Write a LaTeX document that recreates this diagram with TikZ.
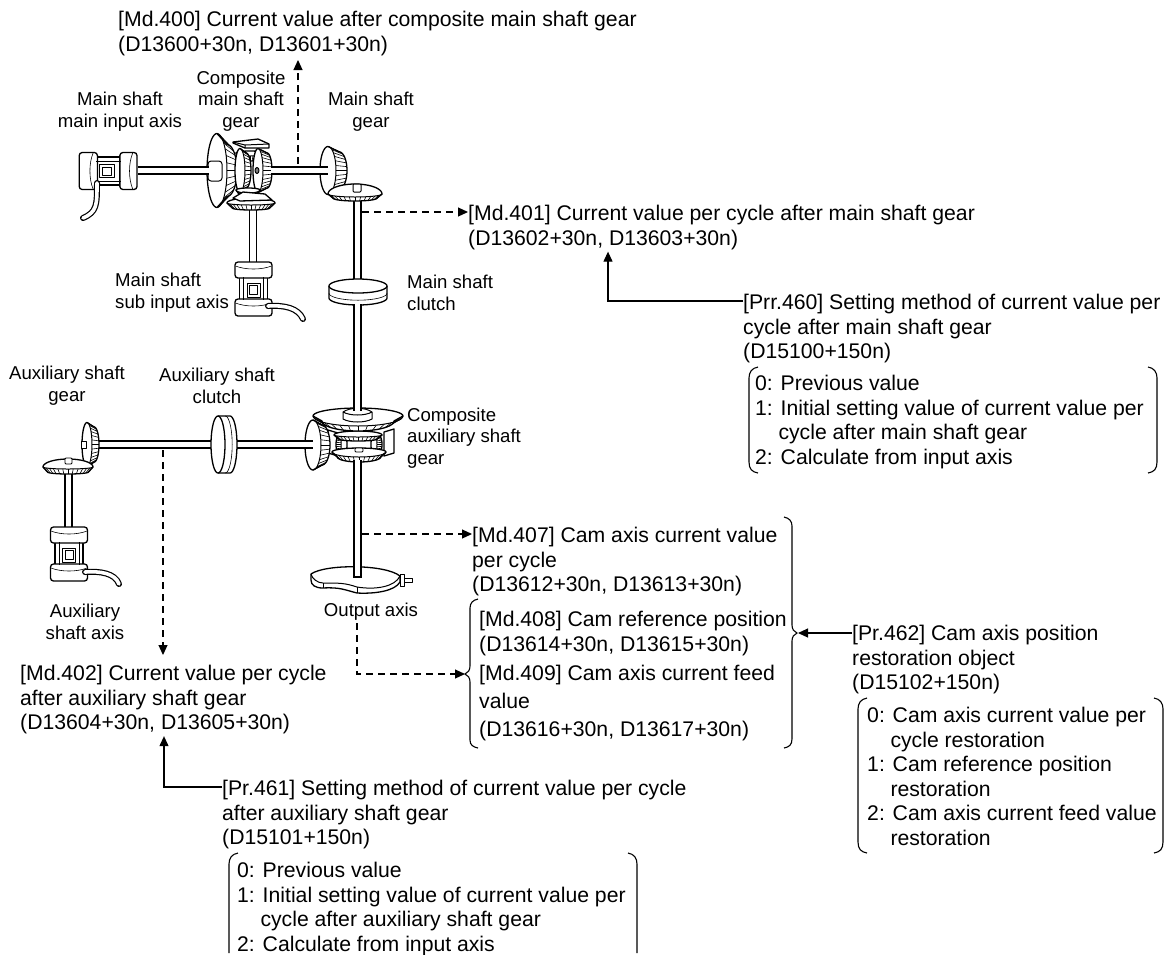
\documentclass[tikz,border=0pt]{standalone}
\usepackage{fontspec}
\setmainfont{Liberation Sans}
\usetikzlibrary{arrows.meta,calc}
\tikzset{
  txt/.style={inner sep=0pt,anchor=north west,align=left,font=\fontsize{21.2}{24.5}\selectfont},
  lab/.style={inner sep=0pt,align=center,font=\fontsize{18.6}{21.7}\selectfont},
  mech/.style={line width=1.3pt,line join=round},
  fine/.style={line width=0.6pt},
  dasharrow/.style={line width=1.1pt,dash pattern=on 7pt off 5pt,-{Triangle[length=10pt,width=9pt]}},
  solidarrow/.style={line width=1.1pt,-{Triangle[length=10pt,width=9pt]}},
  bracket/.style={line width=1.1pt},
}
\newcommand{\Tube}[1]{\draw[line width=8.4pt] #1; \draw[line width=5.2pt,white] #1;}
\newcommand{\TubeS}[1]{\draw[line width=6pt,line cap=round] #1; \draw[line width=3.6pt,white,line cap=round] #1;}
% bevel gear: R rtop rlow b k
\newcommand{\Gear}[5]{%
  \filldraw[mech,fill=white] plot[domain=180:0,samples=25] ({#1*cos(\x)},{-#2*sin(\x)}) -- plot[domain=0:180,samples=25] ({#5*#1*cos(\x)},{#3*sin(\x)+#4}) -- cycle;
  \draw[mech,line width=1pt] plot[domain=0:180,samples=25] ({#1*cos(\x)},{#3*sin(\x)});
  \foreach \a in {6,18,...,174} \draw[fine] ({#1*cos(\a)},{#3*sin(\a)}) -- ({#5*#1*cos(\a)},{#3*sin(\a)+#4});
}
% clutch: R r h
\newcommand{\Clutch}[3]{%
  \filldraw[mech,fill=white] plot[domain=180:0,samples=25] ({#1*cos(\x)},{-#2*sin(\x)}) -- ++(0,#3) -- plot[domain=0:180,samples=25] ({#1*cos(\x)},{#2*sin(\x)+#3}) -- cycle;
  \draw[mech] plot[domain=0:180,samples=25] ({#1*cos(\x)},{#2*sin(\x)});
  \draw[fine] plot[domain=0:180,samples=25] ({#1*cos(\x)},{#2*sin(\x)+0.6*#3});
}
% motor, shaft end at top, local origin at the top centre
\newcommand{\Motor}{%
  \filldraw[mech,fill=white] (-14,15) rectangle (14,40);
  \filldraw[mech,fill=white,rounded corners=3pt] (-18.5,0) rectangle (18.5,16);
  \draw[fine] (-18,4) .. controls (-8,8) and (8,8) .. (18,4);
  \filldraw[mech,fill=white,rounded corners=3pt] (-18.5,37) rectangle (18.5,54);
  \draw[fine] (-18,41) .. controls (-8,45) and (8,45) .. (18,41);
  \draw[mech,line width=1pt] (-10,15) -- (-10,38) (10,15) -- (10,38);
  \filldraw[mech,line width=1pt,fill=white] (-6.5,21) rectangle (6.5,35);
  \draw[mech,line width=0.8pt] (-4,23.5) rectangle (4,32.5);
}
\begin{document}
\begin{tikzpicture}[x=1pt,y=-1pt]
\useasboundingbox (0,0) rectangle (1169,954);
\fill[white] (0,0) rectangle (1169,954);

% ---------- main input side
\begin{scope}[shift={(137,171)},rotate=-90,yscale=1.07]\Motor\end{scope}
\TubeS{(97,183) .. controls (97,205) and (97,212) .. (83,218)}
\Tube{(253,205) -- (253,266)}
\begin{scope}[shift={(253.5,262)}]\Motor\end{scope}
\TubeS{(268,306) .. controls (285,305) and (298,308) .. (303,319)}

% ---------- composite main shaft gear
\begin{scope}[shift={(217,170.5)},rotate=90]\Gear{37}{10}{10}{10}{0.7}\end{scope}
\filldraw[mech,line width=1pt,fill=white,rounded corners=3pt] (208,161) rectangle (222,181);
\Tube{(138,170.5) -- (209,170.5)}
\begin{scope}[shift={(250,153)}]\Gear{14}{2}{3}{5}{0.75}\end{scope}
\begin{scope}[shift={(240,170.5)},rotate=90]\Gear{22}{5}{5}{6}{0.8}\end{scope}
\begin{scope}[shift={(258,170.5)},rotate=90]\Gear{22}{5}{5}{9}{0.8}\end{scope}
\filldraw[mech,line width=1pt,fill=gray] (257,170.5) ellipse[x radius=2,y radius=3];
\filldraw[mech,fill=white] (233,142) -- (258,139) -- (269,144) -- (269,148) -- (245,148) -- (233,143) -- cycle;
\draw[mech,line width=1pt] (233,142) -- (245,145) -- (269,144) (245,145) -- (245,148);
\begin{scope}[shift={(251,203)}]\Gear{24}{5}{2}{5}{0.78}\end{scope}
\begin{scope}[shift={(248,190)}]\Gear{12}{2}{3}{4}{0.75}\end{scope}
\filldraw[mech,fill=white] (233,198) -- (243,192) -- (265,194) -- (272,200) -- (240,201) -- cycle;

% ---------- main shaft gear pair
\begin{scope}[shift={(328,170.5)},rotate=90]\Gear{24}{8}{8}{11}{0.78}\end{scope}
\Tube{(271,170.5) -- (328,170.5)}
\Tube{(357.5,198) -- (357.5,281)}
\begin{scope}[shift={(355,194)}]\Gear{27}{10}{3}{4}{0.82}\end{scope}
\filldraw[mech,line width=1pt,fill=white,rounded corners=1pt] (353,184) rectangle (361,192);

% ---------- main shaft clutch and long shaft
\begin{scope}[shift={(358,286)}]\Clutch{29}{7}{12}\end{scope}

% ---------- composite auxiliary shaft gear
\filldraw[mech,fill=white] (328,430) -- (338,433) -- (338,456) -- (328,453) -- cycle;
\filldraw[mech,fill=white] (384,432) -- (394,429) -- (394,453) -- (384,456) -- cycle;
\begin{scope}[shift={(374,444.5)},rotate=90]\Gear{11}{3}{3}{5}{0.8}\end{scope}
\begin{scope}[shift={(344,444.5)},rotate=-90]\Gear{11}{3}{3}{5}{0.8}\end{scope}
\begin{scope}[shift={(358,435)}]\Gear{24}{4}{2}{4}{0.8}\end{scope}
\begin{scope}[shift={(358,416)}]\Gear{45}{8}{10}{5}{0.8}\end{scope}
\filldraw[mech,line width=1pt,fill=white] (343,412) -- (343,419) .. controls (350,423) and (365,423) .. (372,419) -- (372,412) .. controls (365,407) and (350,407) .. (343,412) -- cycle;
\draw[mech,line width=1pt] (343,412) .. controls (350,416) and (365,416) .. (372,412);
\Tube{(357.5,304) -- (357.5,411)}
\begin{scope}[shift={(359,452)}]\Gear{27}{4}{5}{5}{0.8}\end{scope}
\filldraw[mech,line width=0.8pt,fill=white,rounded corners=1pt] (355,448) rectangle (363,452);
\begin{scope}[shift={(313,445)},rotate=90]\Gear{25}{8}{8}{9}{0.8}\end{scope}

% ---------- auxiliary shafts
\Tube{(99,444.5) -- (217,444.5)}
\Tube{(236,444.5) -- (313,444.5)}
\begin{scope}[shift={(218,444.5)},rotate=90]\Clutch{28.5}{7}{12}\end{scope}
\begin{scope}[shift={(87,444.5)},rotate=90]\Gear{22}{5}{5}{7}{0.8}\end{scope}
\filldraw[mech,line width=0.8pt,fill=white] (81,441) rectangle (86,448);
\Tube{(68.5,474) -- (68.5,530)}
\begin{scope}[shift={(68,467)}]\Gear{25}{8}{2}{5}{0.82}\end{scope}
\filldraw[mech,line width=0.8pt,fill=white,rounded corners=1pt] (65,458) rectangle (72,464);
\begin{scope}[shift={(69,527)}]\Motor\end{scope}
\TubeS{(85,572) .. controls (100,571) and (115,573) .. (119,584)}

% ---------- output axis
\filldraw[mech,fill=white] (311,574) .. controls (325,564) and (385,564) .. (400,576) -- (400,582) .. controls (395,591) and (375,594) .. (357,593) .. controls (345,590) and (340,587) .. (323,588) .. controls (315,588) and (311,585) .. (311,580) -- cycle;
\draw[mech,line width=1pt] (311,574) .. controls (312,579) and (318,583) .. (323,583) .. controls (340,583) and (345,583) .. (357,587) .. controls (375,590) and (395,587) .. (400,576);
\draw[mech,line width=0.8pt] (323,583) -- (323,588) (357,587) -- (357,593);
\Tube{(357.5,460) -- (357.5,577)}
\draw[line width=1.2pt] (353.3,577) -- (361.7,577);
\filldraw[mech,line width=0.9pt,fill=white] (400,574) rectangle (404,586);
\filldraw[mech,line width=0.9pt,fill=white] (404,578) rectangle (412,582);

% ---------- braces
\draw[bracket] (758,367) .. controls (752,368) and (749,372) .. (749,378) -- (749,462) .. controls (749,469) and (752,472) .. (758,473);
\draw[bracket] (1148,367) .. controls (1154,368) and (1157,372) .. (1157,378) -- (1157,462) .. controls (1157,469) and (1154,472) .. (1148,473);
\draw[bracket] (867,698) .. controls (861,699) and (858,703) .. (858,709) -- (858,842) .. controls (858,849) and (861,852) .. (867,853);
\draw[bracket] (1154,698) .. controls (1160,699) and (1163,703) .. (1163,709) -- (1163,842) .. controls (1163,849) and (1160,852) .. (1154,853);
\draw[bracket] (238,853) .. controls (232,854) and (229,858) .. (229,864) -- (229,953);
\draw[bracket] (628,853) .. controls (634,854) and (637,858) .. (637,864) -- (637,953);
\draw[bracket] (478,599) .. controls (473,600) and (470,603) .. (470,608) -- (470,666) .. controls (470,670) and (468,673) .. (465,674) .. controls (468,675) and (470,678) .. (470,682) -- (470,740) .. controls (470,745) and (473,747) .. (478,748);
\draw[bracket] (784,517) .. controls (789,518) and (792,521) .. (792,526) -- (792,625) .. controls (792,629) and (794,632) .. (797,633) .. controls (794,634) and (792,637) .. (792,641) -- (792,739) .. controls (792,745) and (789,747) .. (784,748);

% ---------- labels
\node[lab] (mainin) at (120,112) {Main shaft\\main input axis};
\node[lab] (compmain) at (241,101) {Composite\\main shaft\\gear};
\node[lab] (maingear) at (371,112) {Main shaft\\gear};
\node[lab,anchor=west,align=left] (mainsub) at (115,293) {Main shaft\\sub input axis};
\node[lab,anchor=west,align=left] (mainclutch) at (407,293) {Main shaft\\clutch};
\node[lab] (auxgear) at (67,386) {Auxiliary shaft\\gear};
\node[lab] (auxclutch) at (217,386) {Auxiliary shaft\\clutch};
\node[lab,anchor=west,align=left] (compaux) at (407,438) {Composite\\auxiliary shaft\\gear};
\node[lab] (auxaxis) at (85,622) {Auxiliary\\shaft axis};
\node[lab] (output) at (371,612) {Output axis};

% ---------- texts
\node[txt] (md400) at (118,11) {[Md.400] Current value after composite main shaft gear\\(D13600+30n, D13601+30n)};
\node[txt] (md401) at (468,205) {[Md.401] Current value per cycle after main shaft gear\\(D13602+30n, D13603+30n)};
\node[txt] (pr460) at (743,294) {[Prr.460] Setting method of current value per\\cycle after main shaft gear\\(D15100+150n)};
\node[txt] (op460) at (755,375) {0: Previous value\\1: Initial setting value of current value per\\\hspace*{23.3pt}cycle after main shaft gear\\2: Calculate from input axis};
\node[txt] (md407) at (472,527) {[Md.407] Cam axis current value\\per cycle\\(D13612+30n, D13613+30n)};
\node[txt] (md408) at (479,611) {[Md.408] Cam reference position\\(D13614+30n, D13615+30n)\\[4.5pt][Md.409] Cam axis current feed\\[3.5pt]value\\[3.5pt](D13616+30n, D13617+30n)};
\node[txt] (pr462) at (852,625) {[Pr.462] Cam axis position\\restoration object\\(D15102+150n)};
\node[txt] (op462) at (867,707) {0: Cam axis current value per\\\hspace*{23.3pt}cycle restoration\\1: Cam reference position\\\hspace*{23.3pt}restoration\\2: Cam axis current feed value\\\hspace*{23.3pt}restoration};
\node[txt] (md402) at (20,665) {[Md.402] Current value per cycle\\after auxiliary shaft gear\\(D13604+30n, D13605+30n)};
\node[txt] (pr461) at (222,780) {[Pr.461] Setting method of current value per cycle\\after auxiliary shaft gear\\(D15101+150n)};
\node[txt] (op461) at (237,862) {0: Previous value\\1: Initial setting value of current value per\\\hspace*{23.3pt}cycle after auxiliary shaft gear\\2: Calculate from input axis};

% ---------- connectors
\coordinate (s400) at (298,164);
\coordinate (t400) at (298,60);
\coordinate (s401) at (362,212);
\coordinate (s407) at (362,534);
\coordinate (s402) at (163,450);
\coordinate (t402) at (163,655);
\coordinate (s408) at (357,623);
\coordinate (t408) at (465,674);
\coordinate (t462) at (798,633);
\draw[dasharrow] (s400) -- (t400);
\draw[dasharrow] (s401) -- ([yshift=-7pt]md401.north west);
\draw[solidarrow] ([yshift=-7pt]pr460.north west) -| ([xshift=140pt,yshift=-2pt]md401.south west);
\draw[dasharrow] (s407) -- ([yshift=-7pt]md407.north west);
\draw[dasharrow] (s408) |- (t408);
\draw[solidarrow] ([yshift=-8pt]pr462.north west) -- (t462);
\draw[dasharrow] (s402) -- (t402);
\draw[solidarrow] ([yshift=-7pt]pr461.north west) -| ([xshift=144pt,yshift=-2pt]md402.south west);
\end{tikzpicture}
\end{document}
